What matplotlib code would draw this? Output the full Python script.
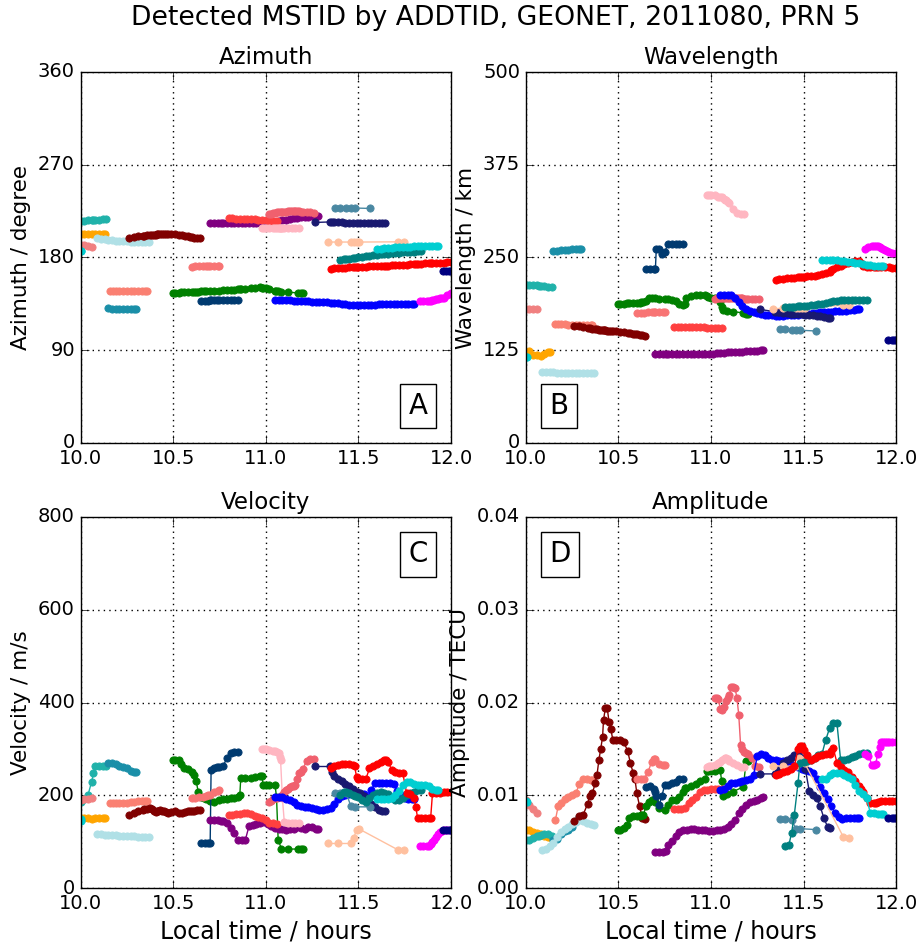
import matplotlib
matplotlib.use('Agg')
import matplotlib.pyplot as plt

plt.style.use('classic')
plt.rcParams['font.family'] = ['DejaVu Sans']

# ---------------- data (one group of lists per detected track) ----------------
t_orange = [10.00, 10.02, 10.04, 10.06, 10.08, 10.10, 10.12, 10.13]
az_orange = [202.7, 202.7, 202.8, 202.7, 202.8, 202.9, 203.0, 203.0]
wl_orange = [121, 124, 119, 118, 117, 120, 122, 122]
vel_orange = [150, 151, 150, 149, 150, 150, 150, 150]
amp_orange = [0.0062, 0.0062, 0.0060, 0.0059, 0.0058, 0.0056, 0.0055, 0.0055]

t_lsg = [10.00, 10.02, 10.04, 10.06, 10.07, 10.08, 10.10, 10.12, 10.14]
az_lsg = [215.3, 215.6, 216.0, 216.3, 216.5, 216.6, 216.8, 217.0, 217.2]
wl_lsg = [212.7, 212.7, 212.5, 212.3, 212.0, 212.0, 211.3, 210.8, 210.4]
vel_lsg = [186, 191, 200, 229, 247, 262, 263, 263, 263]
amp_lsg = [0.0052, 0.0052, 0.0054, 0.0056, 0.0056, 0.0057, 0.0058, 0.0058, 0.0056]

t_dteal = [10.15, 10.17, 10.19, 10.21, 10.23, 10.25, 10.27, 10.29, 10.30]
az_dteal = [131.0, 130.5, 130.5, 130.5, 130.5, 130.5, 130.5, 130.5, 130.5]
wl_dteal = [259, 259, 259.5, 260, 260.5, 261, 261.5, 262, 262]
vel_dteal = [269, 270, 268, 264, 261, 258, 253, 251, 250]
amp_dteal = [0.0052, 0.0053, 0.0058, 0.0061, 0.0062, 0.0066, 0.0072, 0.0077, 0.0078]

t_pblue = [10.09, 10.11, 10.13, 10.15, 10.17, 10.19, 10.21, 10.23, 10.25, 10.27, 10.29, 10.31, 10.33, 10.35, 10.37]
az_pblue = [198.5, 198.0, 197.5, 197.0, 196.6, 196.3, 196.0, 195.8, 195.6, 195.4, 195.3, 195.2, 195.2, 195.2, 195.2]
wl_pblue = [95.5, 95.5, 95.3, 95.2, 95.0, 95.0, 95.0, 94.8, 94.7, 94.5, 94.4, 94.2, 94.0, 94.0, 94.0]
vel_pblue = [116, 115.5, 115, 114.5, 114, 113.5, 113, 112.5, 112, 112, 111.5, 111, 111, 111, 111]
amp_pblue = [0.0041, 0.0042, 0.0045, 0.0048, 0.0055, 0.0060, 0.0064, 0.0066, 0.0069, 0.0071, 0.0073, 0.0072, 0.0070, 0.0069, 0.0068]

t_lcoral = [10.00, 10.02, 10.04, 10.06]
az_lcoral = [192.0, 192.0, 191.5, 190.5]
wl_lcoral = [180.5, 180.0, 180.0, 180.0]
vel_lcoral = [190, 191, 192, 194]
amp_lcoral = [0.0095, 0.0090, 0.0085, 0.0081]

t_cyan0 = [10.00, 10.005]
az_cyan0 = [186, 186]
wl_cyan0 = [116, 116]
vel_cyan0 = [145, 148]
amp_cyan0 = [0.0094, 0.0093]

t_salmon = [10.16, 10.175, 10.19, 10.21, 10.23, 10.25, 10.27, 10.29, 10.31, 10.33, 10.35, 10.36]
az_salmon = [147.6, 147.6, 147.7, 147.6, 147.6, 147.6, 147.7, 147.6, 147.6, 147.6, 147.7, 147.6]
wl_salmon = [161, 161, 160.5, 160, 159.5, 159, 158.7, 158.5, 158.5, 158.5, 158.5, 158.5]
vel_salmon = [184, 184, 183.5, 183, 183.5, 184, 185, 186, 187, 188, 188, 188]
amp_salmon = [0.0073, 0.0088, 0.0092, 0.0096, 0.0098, 0.0100, 0.0102, 0.0112, 0.0117, 0.0117, 0.0116, 0.0116]

t_maroon = [10.26, 10.29, 10.31, 10.335, 10.345, 10.36, 10.375, 10.385, 10.395, 10.405, 10.415, 10.42, 10.43, 10.44,
            10.45, 10.46, 10.47, 10.49, 10.51, 10.53, 10.55, 10.565, 10.58, 10.59, 10.60, 10.615, 10.63, 10.645]
az_maroon = [199.4, 200.0, 200.5, 201.0, 201.3, 201.6, 201.9, 202.1, 202.2, 202.3, 202.4, 202.5, 202.6, 202.7,
             202.7, 202.7, 202.7, 202.6, 202.4, 202.0, 201.6, 201.2, 200.6, 200.2, 199.8, 199.3, 198.8, 198.5]
wl_maroon = [157.8, 157.2, 156.5, 155.2, 154.6, 154.0, 153.5, 153.2, 152.9, 152.5, 152.2, 152.0, 151.7, 151.4,
             151.1, 150.9, 150.7, 150.4, 150.0, 149.0, 148.2, 147.7, 147.1, 146.6, 146.4, 145.8, 145.2, 144.8]
vel_maroon = [158, 162, 165, 169, 170, 171, 172, 170, 166, 164, 165, 166, 168, 167,
              165, 163, 162, 164, 165, 162, 161, 163, 165, 166, 167, 167, 168, 168]
amp_maroon = [0.0072, 0.0078, 0.0079, 0.0091, 0.0099, 0.0102, 0.0113, 0.0122, 0.0138, 0.0150, 0.0163, 0.0181, 0.0194, 0.0194,
              0.0179, 0.0171, 0.0160, 0.0160, 0.0160, 0.0157, 0.0148, 0.0135, 0.0124, 0.0117, 0.0102, 0.0088, 0.0075, 0.0074]

t_green = [10.50, 10.51, 10.53, 10.545, 10.56, 10.58, 10.60, 10.615, 10.625, 10.635, 10.65, 10.665, 10.68, 10.70,
           10.72, 10.75, 10.77, 10.79, 10.81, 10.83, 10.85, 10.86, 10.865, 10.89, 10.92, 10.94, 10.97, 10.98,
           10.985, 11.00, 11.02, 11.05, 11.058, 11.067, 11.085, 11.12, 11.175, 11.19, 11.20]
az_green = [145.7, 145.8, 146.0, 146.1, 146.2, 146.4, 146.6, 146.8, 146.9, 147.0, 147.1, 147.2, 147.3, 147.4,
            147.6, 147.8, 148.0, 148.2, 148.4, 148.7, 149.0, 149.2, 149.3, 149.7, 150.2, 150.5, 150.9, 150.8,
            150.6, 150.0, 149.0, 147.8, 147.5, 147.2, 146.8, 146.3, 145.7, 145.7, 145.7]
wl_green = [188, 188, 188, 188.5, 188.5, 189, 189, 189, 189.5, 190, 192, 196, 196, 195,
            194, 194, 194, 193, 191, 188, 186, 188, 196, 198, 199, 199, 200, 198,
            197, 196, 195, 190, 183, 179, 178, 177, 175.4, 174, 174]
vel_green = [276, 276, 275, 268, 258, 256, 250, 244, 230, 208, 197, 193, 191, 188,
             186, 189, 191, 192, 193.5, 195, 197, 200, 237, 237, 238, 240, 242, 242,
             222, 222, 222, 222, 197, 104, 84, 84, 84, 84, 84]
amp_green = [0.0062, 0.0062, 0.0065, 0.0068, 0.0076, 0.0078, 0.0078, 0.0078, 0.0079, 0.0079, 0.0088, 0.0093, 0.0095, 0.0093,
             0.0086, 0.0084, 0.0090, 0.0095, 0.0095, 0.0098, 0.0103, 0.0108, 0.0108, 0.0110, 0.0112, 0.0115, 0.0118, 0.0126,
             0.0126, 0.0126, 0.0126, 0.0127, 0.0115, 0.0099, 0.0101, 0.0104, 0.0109, 0.0137, 0.0137]

t_dnavy = [10.65, 10.67, 10.69, 10.70, 10.705, 10.72, 10.735, 10.75, 10.77, 10.79, 10.81, 10.83, 10.85]
az_dnavy = [138.0, 138.0, 138.2, 138.3, 138.3, 138.4, 138.5, 138.6, 138.7, 138.8, 138.9, 139.0, 139.0]
wl_dnavy = [234, 234, 234, 234, 262, 262, 255, 258, 268, 268, 268, 268, 268]
vel_dnavy = [98, 98, 98, 98, 255, 258, 260, 261, 263, 280, 292, 294, 294]
amp_dnavy = [0.0109, 0.0110, 0.0107, 0.0103, 0.0099, 0.0089, 0.0099, 0.0111, 0.0111, 0.0113, 0.0114, 0.0118, 0.0118]

t_salmon2 = [10.60, 10.62, 10.64, 10.66, 10.68, 10.69, 10.70, 10.72, 10.74, 10.75]
az_salmon2 = [171.2, 171.3, 171.4, 171.5, 171.5, 171.6, 171.6, 171.6, 171.6, 171.6]
wl_salmon2 = [175.5, 175.5, 175.8, 176, 176, 176, 176, 176.2, 176.3, 176.3]
vel_salmon2 = [193, 194, 196, 197, 199, 200, 201, 206, 210, 211]
amp_salmon2 = [0.0117, 0.0117, 0.0118, 0.0125, 0.0136, 0.0139, 0.0139, 0.0134, 0.0133, 0.0133]

t_purple = [10.70, 10.72, 10.74, 10.76, 10.77, 10.79, 10.81, 10.83, 10.85, 10.87, 10.89, 10.91, 10.93, 10.95, 10.97, 10.99,
            11.01, 11.03, 11.05, 11.07, 11.09, 11.11, 11.13, 11.15, 11.17, 11.19, 11.21, 11.23, 11.25, 11.27, 11.28]
az_purple = [213, 213, 213, 213, 213, 213.3, 213.6, 213.8, 213.9, 213.9, 213.8, 213.7, 213.7, 213.7, 213.6, 213.6,
             213.7, 214.0, 214.6, 215.4, 216.1, 216.8, 217.5, 218.1, 218.6, 219.0, 219.4, 219.7, 219.9, 220.0, 220.0]
wl_purple = [119.6, 119.6, 119.7, 119.7, 119.8, 119.8, 119.9, 120.0, 120.1, 120.2, 120.3, 120.3, 120.3, 120.3, 120.4, 120.5,
             120.6, 120.8, 121.0, 121.5, 122.0, 122.3, 122.7, 123.0, 123.3, 123.7, 124.0, 124.3, 124.6, 124.9, 125.0]
vel_purple = [147, 147, 146, 145, 145, 140, 130, 118, 104, 104, 104, 134, 136, 138, 140, 143,
              137, 133, 130, 127, 127, 126, 127, 127, 132, 129, 127, 131, 132, 128, 127]
amp_purple = [0.0039, 0.0039, 0.0039, 0.0040, 0.0046, 0.0051, 0.0056, 0.0060, 0.0063, 0.0063, 0.0064, 0.0064, 0.0063, 0.0063,
              0.0062, 0.0061, 0.0061, 0.0062, 0.0063, 0.0064, 0.0066, 0.0069, 0.0073, 0.0081, 0.0085, 0.0090, 0.0093,
              0.0094, 0.0095, 0.0097, 0.0098]

t_red2 = [10.80, 10.82, 10.84, 10.86, 10.88, 10.90, 10.92, 10.94, 10.96, 10.98, 11.00, 11.02, 11.04, 11.06]
az_red2 = [218, 218, 217.5, 217, 217, 217, 217, 217, 216.5, 216.5, 216, 215.6, 215.5, 215.5]
wl_red2 = [157, 157, 156.8, 156.6, 156.5, 156.4, 156.2, 156, 155.8, 155.6, 155.4, 155.2, 155, 155]
vel_red2 = [158, 158, 160, 160, 161, 162, 160, 156, 154, 150, 146, 141, 140, 139]
amp_red2 = [0.0085, 0.0085, 0.0085, 0.0086, 0.0092, 0.0095, 0.0098, 0.0104, 0.0106, 0.0106, 0.0107, 0.0107, 0.0107, 0.0107]

t_lpink = [10.98, 10.99, 11.00, 11.02, 11.04, 11.05, 11.06, 11.07, 11.075, 11.08, 11.09, 11.10, 11.12, 11.14, 11.16, 11.18]
az_lpink = [209.0, 209.0, 209.0, 209.1, 209.1, 209.0, 209.0, 209.0, 209.0, 209.0, 209.0, 208.9, 208.9, 208.8, 208.8, 208.8]
wl_lpink = [334, 334, 334, 334, 332, 331, 331, 329, 328, 327, 325, 324, 316, 310, 309, 309]
vel_lpink = [299, 299, 299, 297, 296, 295, 294, 291, 283, 276, 193, 143, 140, 140, 140, 140]
amp_lpink = [0.0130, 0.0131, 0.0132, 0.0133, 0.0135, 0.0136, 0.0138, 0.0139, 0.0140, 0.0140, 0.0139, 0.0137, 0.0135, 0.0133, 0.0130, 0.0130]

t_pred = [11.02, 11.03, 11.04, 11.05, 11.06, 11.07, 11.08, 11.09, 11.10, 11.11, 11.12, 11.13, 11.14, 11.15, 11.16,
          11.17, 11.18, 11.19, 11.20, 11.22, 11.24, 11.26]
az_pred = [222, 222.5, 223, 223.5, 223.8, 224, 224, 224.2, 224.3, 224.5, 224.7, 225, 225, 225.2, 225.3,
           225.3, 225, 224.6, 224.3, 224, 223.8, 223.4]
wl_pred = [194.7, 195, 195.3, 195.5, 195.6, 195.6, 195.7, 195.8, 195.8, 195.6, 195.5, 195.4, 195.3, 195.2, 195,
           194.8, 194.7, 194.6, 194.5, 194.4, 194.3, 194.3]
vel_pred = [185, 188, 192, 194, 195, 196, 197, 200, 206, 211, 214, 218, 219, 220, 222,
            235, 247, 250, 256, 274, 278, 278]
amp_pred = [0.0205, 0.0205, 0.0204, 0.0193, 0.0192, 0.0195, 0.0202, 0.0205, 0.0208, 0.0217, 0.0217, 0.0216, 0.0205,
            0.0187, 0.0154, 0.0150, 0.0147, 0.0146, 0.0144, 0.0140, 0.0132, 0.0130]

t_blue = [11.05, 11.07, 11.09, 11.11, 11.13, 11.15, 11.17, 11.19, 11.21, 11.23, 11.25, 11.27, 11.29, 11.31, 11.33,
          11.35, 11.37, 11.39, 11.41, 11.43, 11.45, 11.47, 11.49, 11.51, 11.53, 11.55, 11.57, 11.59, 11.61, 11.63,
          11.65, 11.67, 11.69, 11.71, 11.73, 11.75, 11.77, 11.79, 11.80]
az_blue = [138.6, 138.6, 138.5, 138.4, 138.3, 138.1, 138.0, 137.9, 137.7, 137.5, 137.3, 137.1, 137.0, 136.8, 136.5,
           136.3, 136.1, 135.8, 135.3, 134.6, 134.3, 134.0, 133.8, 133.7, 133.7, 133.8, 134.0, 134.2, 134.4, 134.4,
           134.4, 134.4, 134.4, 134.4, 134.4, 134.5, 134.5, 134.6, 134.7]
wl_blue = [200, 200, 200, 199, 196, 190, 184, 180, 178, 176, 175, 174, 173, 172, 172,
           171.5, 171.5, 171.5, 172, 172, 172.5, 173, 173.5, 174, 174.5, 175, 175.5, 176.5, 177, 177,
           177, 177.5, 178, 178, 178.5, 179, 179.5, 180, 180]
vel_blue = [197, 197, 196, 192, 189, 185, 180, 176, 175, 174, 172, 170, 169, 169, 170,
            172, 181, 192, 198, 201, 203, 204, 204, 203, 202, 197, 212, 226, 226, 226,
            226, 226, 225, 210, 200, 194, 192, 191, 191]
amp_blue = [0.0106, 0.0107, 0.0110, 0.0113, 0.0113, 0.0114, 0.0115, 0.0116, 0.0117, 0.0122, 0.0142, 0.0145, 0.0143,
            0.0140, 0.0138, 0.0138, 0.0137, 0.0137, 0.0135, 0.0133, 0.0132, 0.0130, 0.0128, 0.0127, 0.0126, 0.0124,
            0.0118, 0.0109, 0.0102, 0.0096, 0.0088, 0.0081, 0.0077, 0.0074, 0.0075, 0.0075, 0.0075, 0.0075, 0.0075]

t_mnb = [11.265, 11.345, 11.36, 11.37, 11.39, 11.41, 11.43, 11.45, 11.47, 11.49, 11.51, 11.53, 11.55, 11.57, 11.59,
         11.61, 11.63, 11.645]
az_mnb = [214.0, 214.5, 214.5, 214.4, 214.2, 214.0, 213.8, 213.5, 213.3, 213.2, 213.2, 213.2, 213.2, 213.1, 213.0,
          213.0, 213.0, 213.0]
wl_mnb = [180, 177, 176.5, 176, 175.5, 175, 174.5, 174, 174, 173.5, 173, 172.5, 172, 171, 170.5, 170, 169, 169]
vel_mnb = [262, 262, 250, 242, 235, 230, 225, 220, 213, 208, 204, 198, 190, 182, 175, 168, 165, 165]
amp_mnb = [0.0123, 0.0123, 0.0125, 0.0128, 0.0135, 0.0138, 0.0140, 0.0143, 0.0144, 0.0140, 0.0128, 0.0105, 0.0100,
           0.0097, 0.0088, 0.0075, 0.0066, 0.0065]

t_peach = [11.335, 11.39, 11.46, 11.475, 11.49, 11.505, 11.715, 11.745]
az_peach = [195, 195, 195, 195, 195, 195, 195.2, 195.4]
wl_peach = [181, 181.5, 182, 182, 182, 182, 185.7, 185.7]
vel_peach = [96, 96, 96, 107, 126, 127, 82, 82]
amp_peach = [0.0132, 0.0131, 0.0132, 0.0140, 0.0138, 0.0135, 0.0055, 0.0054]

t_steel = [11.372, 11.40, 11.435, 11.46, 11.48, 11.565]
az_steel = [228.2, 228.2, 228.0, 228.0, 228.0, 227.6]
wl_steel = [153, 153, 152.5, 152, 152, 151]
vel_steel = [204, 204, 204, 176, 175, 175]
amp_steel = [0.0074, 0.0074, 0.0073, 0.0064, 0.0064, 0.0063]

t_teal = [11.40, 11.42, 11.435, 11.45, 11.47, 11.48, 11.50, 11.52, 11.54, 11.56, 11.58, 11.60, 11.62, 11.64, 11.66,
          11.68, 11.70, 11.72, 11.74, 11.76, 11.78, 11.80, 11.82, 11.84]
az_teal = [178, 178.2, 178.4, 178.7, 179.2, 179.5, 180, 180.5, 181, 181.5, 182, 182.5, 183, 183.3, 183.6,
           184, 184.3, 184.6, 185, 185.3, 185.6, 185.8, 186, 186]
wl_teal = [183.5, 183.5, 183.5, 183.5, 184, 184, 184.5, 185, 186, 186.5, 187.5, 188, 189, 190, 191,
           192, 192.5, 192.5, 192.5, 192.5, 192.5, 193, 193, 193]
vel_teal = [200, 208, 208, 205, 200, 198, 196, 190, 186, 195, 200, 205, 206, 205, 202,
            195, 190, 190, 195, 200, 205, 208, 211, 212]
amp_teal = [0.0045, 0.0046, 0.0059, 0.0079, 0.0113, 0.0135, 0.0136, 0.0137, 0.0138, 0.0140, 0.0143, 0.0145, 0.0160,
            0.0172, 0.0178, 0.0178, 0.0138, 0.0138, 0.0139, 0.0141, 0.0142, 0.0145, 0.0146, 0.0146]

t_red = [11.35, 11.37, 11.39, 11.41, 11.43, 11.45, 11.47, 11.48, 11.49, 11.50, 11.52, 11.54, 11.56, 11.58, 11.60,
         11.62, 11.64, 11.65, 11.66, 11.68, 11.70, 11.72, 11.74, 11.76, 11.78, 11.80, 11.81, 11.82, 11.84, 11.86,
         11.88, 11.89, 11.90, 11.92, 11.94, 11.96, 11.98, 12.0]
az_red = [169.3, 169.5, 169.7, 169.9, 170.1, 170.3, 170.5, 170.6, 170.7, 170.8, 171.0, 171.1, 171.3, 171.4, 171.6,
          171.8, 172.0, 172.1, 172.2, 172.4, 172.6, 172.8, 173.0, 173.2, 173.4, 173.6, 173.7, 173.8, 174.0, 174.2,
          174.5, 174.6, 174.7, 174.8, 175.0, 175.1, 175.2, 175.3]
wl_red = [219.5, 220.5, 221.5, 222, 222.5, 223, 223.5, 223.5, 224, 224, 224.5, 225, 225.5, 226, 227.5,
          229, 231, 232.5, 234, 237, 239, 241, 243, 244.5, 245, 245, 243, 239, 237.5, 237,
          237, 237, 237, 237, 237, 237, 236.5, 236.5]
vel_red = [258, 264, 266, 267, 268, 268, 265, 262, 240, 236, 234.5, 234.5, 258, 264, 268,
           272, 276, 276, 272, 255, 250, 249, 247, 205, 202, 195, 175, 150, 150, 150,
           150, 150, 204, 205, 205.5, 206, 206, 206]
amp_red = [0.0122, 0.0123, 0.0125, 0.0126, 0.0128, 0.0131, 0.0150, 0.0153, 0.0153, 0.0149, 0.0143, 0.0138, 0.0140,
           0.0142, 0.0143, 0.0144, 0.0145, 0.0148, 0.0151, 0.0135, 0.0130, 0.0127, 0.0125, 0.0120, 0.0115, 0.0110,
           0.0107, 0.0104, 0.0097, 0.0092, 0.0092, 0.0092, 0.0093, 0.0094, 0.0094, 0.0094, 0.0094, 0.0094]

t_dturq = [11.60, 11.62, 11.64, 11.66, 11.68, 11.70, 11.72, 11.74, 11.76, 11.78, 11.80, 11.82, 11.84, 11.86, 11.88,
           11.90, 11.92, 11.93]
az_dturq = [188.4, 188.6, 189.0, 189.3, 189.6, 189.9, 190.1, 190.3, 190.4, 190.6, 190.7, 190.8, 190.9, 191.0, 191.0,
            191.0, 191.0, 191.0]
wl_dturq = [246.5, 246.5, 246.5, 246.5, 246, 245.5, 245, 244.5, 244, 243, 242, 241, 240, 239.5, 239, 238.5, 238.3, 238]
vel_dturq = [191, 191, 191, 191, 194, 200, 210, 222, 229, 228, 225, 222, 222, 222, 220, 214, 211, 211]
amp_dturq = [0.0117, 0.0117, 0.0122, 0.0124, 0.0124, 0.0124, 0.0122, 0.0120, 0.0118, 0.0111, 0.0105, 0.0101, 0.0097,
             0.0081, 0.0081, 0.0080, 0.0080, 0.0080]

t_mag = [11.83, 11.85, 11.87, 11.88, 11.89, 11.90, 11.91, 11.92, 11.93, 11.94, 11.95, 11.96, 11.98, 12.0]
az_mag = [137.5, 137.6, 137.8, 138.0, 138.2, 138.5, 139.0, 139.5, 140.0, 140.3, 140.6, 141.0, 143.5, 146.0]
wl_mag = [262, 264, 265.5, 266, 266, 265.5, 264.5, 263, 261, 260, 259, 258, 256.5, 256]
vel_mag = [91, 91, 91, 91, 95, 100, 104, 110, 116, 120, 123, 124, 125, 125]
amp_mag = [0.0144, 0.0142, 0.0133, 0.0133, 0.0134, 0.0145, 0.0152, 0.0157, 0.0157, 0.0157, 0.0157, 0.0157, 0.0157, 0.0157]

t_navy = [11.955, 11.975, 11.99, 12.0]
az_navy = [167, 167, 167, 167]
wl_navy = [138.5, 138.5, 138.5, 138.5]
vel_navy = [125, 125, 126, 126]
amp_navy = [0.0076, 0.0076, 0.0075, 0.0075]

tracks = [
    ('#FFA500', t_orange, az_orange, wl_orange, vel_orange, amp_orange),
    ('#20B2AA', t_lsg, az_lsg, wl_lsg, vel_lsg, amp_lsg),
    ('#1A8FA8', t_dteal, az_dteal, wl_dteal, vel_dteal, amp_dteal),
    ('#B0E0E6', t_pblue, az_pblue, wl_pblue, vel_pblue, amp_pblue),
    ('#F08080', t_lcoral, az_lcoral, wl_lcoral, vel_lcoral, amp_lcoral),
    ('#00CED1', t_cyan0, az_cyan0, wl_cyan0, vel_cyan0, amp_cyan0),
    ('#FA8072', t_salmon, az_salmon, wl_salmon, vel_salmon, amp_salmon),
    ('#800000', t_maroon, az_maroon, wl_maroon, vel_maroon, amp_maroon),
    ('#008000', t_green, az_green, wl_green, vel_green, amp_green),
    ('#003A70', t_dnavy, az_dnavy, wl_dnavy, vel_dnavy, amp_dnavy),
    ('#F87474', t_salmon2, az_salmon2, wl_salmon2, vel_salmon2, amp_salmon2),
    ('#800080', t_purple, az_purple, wl_purple, vel_purple, amp_purple),
    ('#FF4040', t_red2, az_red2, wl_red2, vel_red2, amp_red2),
    ('#FFB6C1', t_lpink, az_lpink, wl_lpink, vel_lpink, amp_lpink),
    ('#F0606E', t_pred, az_pred, wl_pred, vel_pred, amp_pred),
    ('#0000FF', t_blue, az_blue, wl_blue, vel_blue, amp_blue),
    ('#191970', t_mnb, az_mnb, wl_mnb, vel_mnb, amp_mnb),
    ('#FFC09F', t_peach, az_peach, wl_peach, vel_peach, amp_peach),
    ('#4A88A2', t_steel, az_steel, wl_steel, vel_steel, amp_steel),
    ('#008080', t_teal, az_teal, wl_teal, vel_teal, amp_teal),
    ('#FF0000', t_red, az_red, wl_red, vel_red, amp_red),
    ('#00CED1', t_dturq, az_dturq, wl_dturq, vel_dturq, amp_dturq),
    ('#FF00FF', t_mag, az_mag, wl_mag, vel_mag, amp_mag),
    ('#000080', t_navy, az_navy, wl_navy, vel_navy, amp_navy),
]

panel_titles = ['Azimuth', 'Wavelength', 'Velocity', 'Amplitude']
panel_ylabels = ['Azimuth / degree', 'Wavelength / km', 'Velocity / m/s', 'Amplitude / TECU']
panel_letters = ['A', 'B', 'C', 'D']
panel_yticks = [[0, 90, 180, 270, 360], [0, 125, 250, 375, 500],
                [0, 200, 400, 600, 800], [0.0, 0.01, 0.02, 0.03, 0.04]]
panel_yticklabels = [['0', '90', '180', '270', '360'], ['0', '125', '250', '375', '500'],
                     ['0', '200', '400', '600', '800'], ['0.00', '0.01', '0.02', '0.03', '0.04']]
x_ticks = [10.0, 10.5, 11.0, 11.5, 12.0]
x_ticklabels = ['10.0', '10.5', '11.0', '11.5', '12.0']

# ---------------- figure ----------------
fig = plt.figure(figsize=(9.23, 9.47), dpi=100, facecolor='white')
W, H = 923.0, 947.0
rects = [
    [80.5 / W, 1 - 443 / H, 370.5 / W, 371 / H],
    [525.7 / W, 1 - 443 / H, 370.5 / W, 371 / H],
    [80.5 / W, 1 - 888 / H, 370.5 / W, 371 / H],
    [525.7 / W, 1 - 888 / H, 370.5 / W, 371 / H],
]
letter_pos = [(0.911, 0.10), (0.089, 0.10), (0.911, 0.899), (0.092, 0.899)]

for k in range(4):
    ax = fig.add_axes(rects[k])
    ax.set_facecolor('white')
    ax.set_axisbelow(True)
    for tr in tracks:
        color = tr[0]
        tt = tr[1]
        vals = tr[2 + k]
        ax.plot(tt, vals, '-o', color=color, lw=1.0, ms=5.2, mec=color, mew=0.6)
    ax.set_xlim(10.0, 12.0)
    ax.set_ylim(panel_yticks[k][0], panel_yticks[k][-1])
    ax.set_xticks(x_ticks)
    ax.set_xticklabels(x_ticklabels)
    ax.set_yticks(panel_yticks[k])
    ax.set_yticklabels(panel_yticklabels[k])
    ax.tick_params(labelsize=14, direction='in', length=6, top=True, right=True)
    ax.grid(True, color='k', linestyle=(0, (1, 3)), linewidth=1.0)
    ax.set_title(panel_titles[k], fontsize=16.5, pad=6)
    ax.set_ylabel(panel_ylabels[k], fontsize=15.5)
    if k >= 2:
        ax.set_xlabel('Local time / hours', fontsize=17)
    lx, ly = letter_pos[k]
    ax.text(lx, ly, panel_letters[k], transform=ax.transAxes, fontsize=20,
            ha='center', va='center', zorder=10,
            bbox=dict(boxstyle='square,pad=0.3', fc='white', ec='black', lw=1.0))

fig.text(0.537, 1 - 18 / H, 'Detected MSTID by ADDTID, GEONET, 2011080, PRN 5',
         ha='center', va='center', fontsize=19.2)

fig.savefig('out.png', dpi=100, facecolor='white')
